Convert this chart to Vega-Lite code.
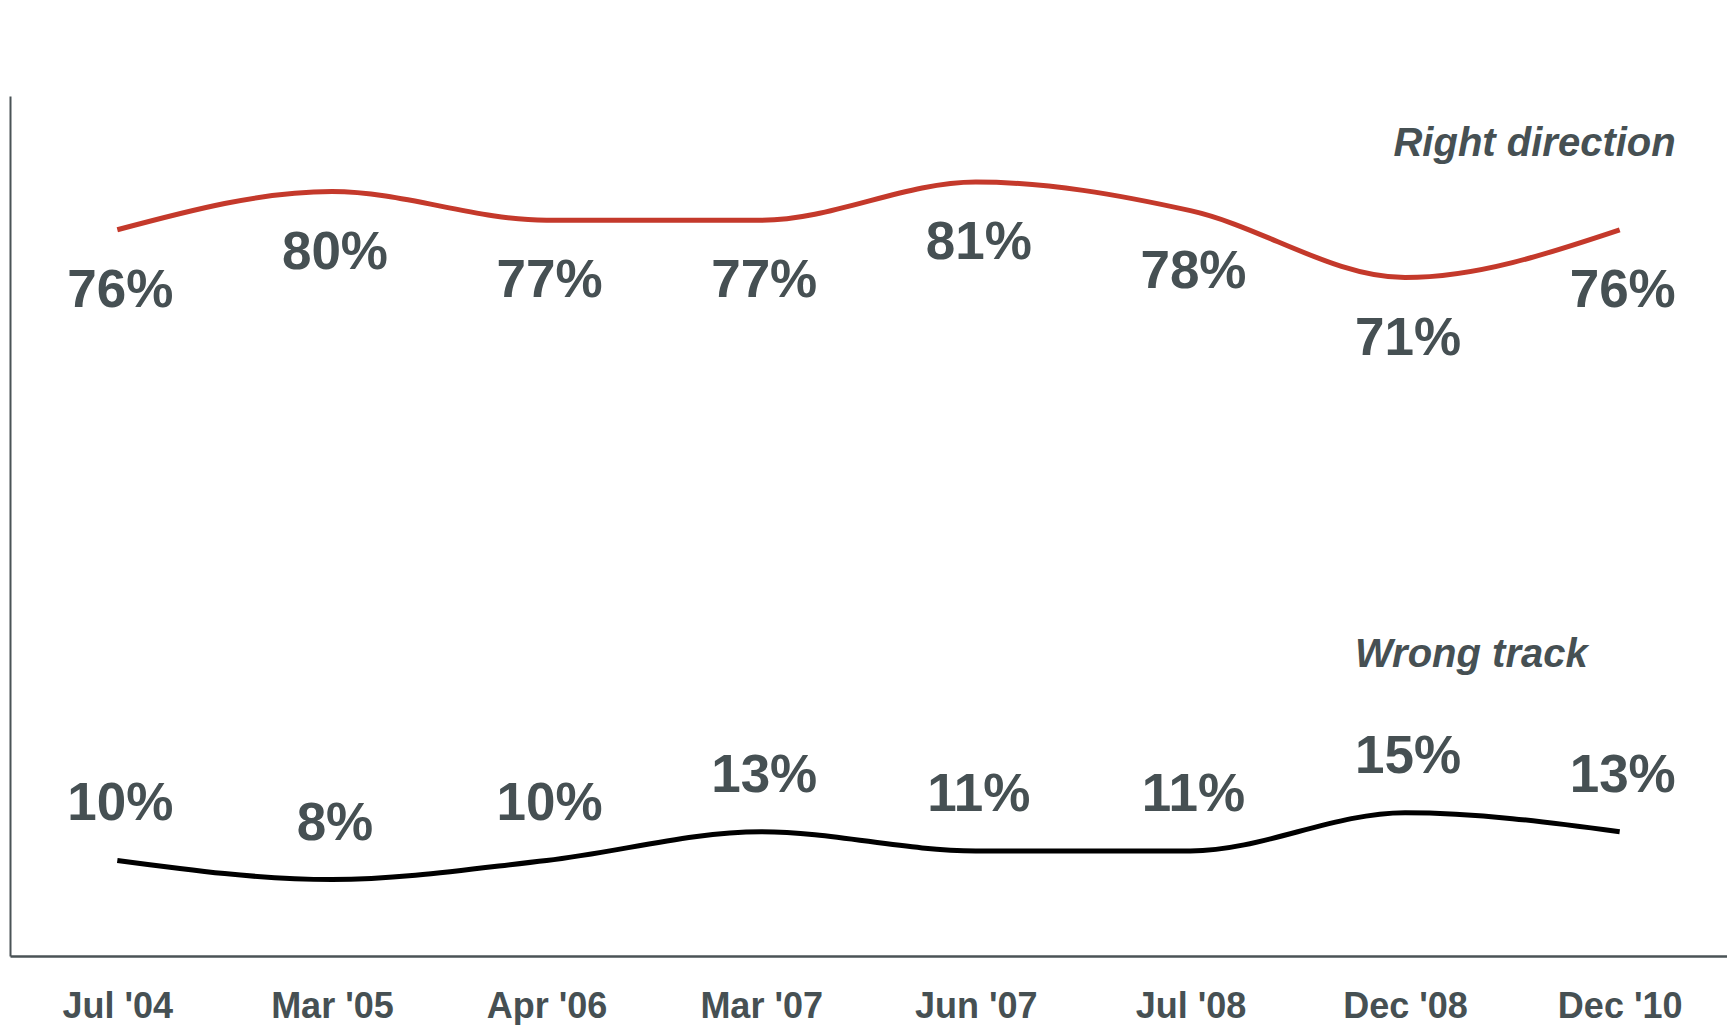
{
  "$schema": "https://vega.github.io/schema/vega-lite/v6.json",
  "width": 1717,
  "height": 860,
  "autosize": {"type": "none"},
  "padding": {"left": 10, "top": 96, "right": 0, "bottom": 69},
  "background": "#ffffff",
  "config": {"view": {"stroke": null}},
  "datasets": {
    "poll": [
      {"date": "Jul '04", "series": "Right direction", "value": 76, "label": "76%"},
      {"date": "Mar '05", "series": "Right direction", "value": 80, "label": "80%"},
      {"date": "Apr '06", "series": "Right direction", "value": 77, "label": "77%"},
      {"date": "Mar '07", "series": "Right direction", "value": 77, "label": "77%"},
      {"date": "Jun '07", "series": "Right direction", "value": 81, "label": "81%"},
      {"date": "Jul '08", "series": "Right direction", "value": 78, "label": "78%"},
      {"date": "Dec '08", "series": "Right direction", "value": 71, "label": "71%"},
      {"date": "Dec '10", "series": "Right direction", "value": 76, "label": "76%"},
      {"date": "Jul '04", "series": "Wrong track", "value": 10, "label": "10%"},
      {"date": "Mar '05", "series": "Wrong track", "value": 8, "label": "8%"},
      {"date": "Apr '06", "series": "Wrong track", "value": 10, "label": "10%"},
      {"date": "Mar '07", "series": "Wrong track", "value": 13, "label": "13%"},
      {"date": "Jun '07", "series": "Wrong track", "value": 11, "label": "11%"},
      {"date": "Jul '08", "series": "Wrong track", "value": 11, "label": "11%"},
      {"date": "Dec '08", "series": "Wrong track", "value": 15, "label": "15%"},
      {"date": "Dec '10", "series": "Wrong track", "value": 13, "label": "13%"}
    ],
    "notes": [
      {"date": "Dec '10", "value": 85, "text": "Right direction"},
      {"date": "Dec '10", "value": 31.5, "text": "Wrong track"}
    ]
  },
  "encoding": {
    "x": {
      "field": "date",
      "type": "ordinal",
      "sort": ["Jul '04", "Mar '05", "Apr '06", "Mar '07", "Jun '07", "Jul '08", "Dec '08", "Dec '10"],
      "scale": {"type": "point", "padding": 0.5},
      "axis": {
        "title": null,
        "domain": true,
        "domainColor": "#4a5356",
        "domainWidth": 2.5,
        "ticks": false,
        "grid": false,
        "labelAngle": 0,
        "labelFont": "Liberation Sans, Arial",
        "labelFontSize": 36,
        "labelFontWeight": "bold",
        "labelColor": "#465053",
        "labelBaseline": "middle",
        "labelPadding": 50
      }
    },
    "y": {
      "field": "value",
      "type": "quantitative",
      "scale": {"domain": [0, 90], "nice": false, "zero": true},
      "axis": {
        "title": null,
        "domain": true,
        "domainColor": "#4a5356",
        "domainWidth": 2,
        "ticks": false,
        "labels": false,
        "grid": false
      }
    }
  },
  "layer": [
    {
      "data": {"name": "poll"},
      "mark": {"type": "line", "interpolate": "monotone", "strokeWidth": 5},
      "encoding": {
        "color": {
          "field": "series",
          "type": "nominal",
          "scale": {"domain": ["Right direction", "Wrong track"], "range": ["#c4392b", "#000000"]},
          "legend": null
        }
      }
    },
    {
      "data": {"name": "poll"},
      "transform": [{"filter": "datum.series === 'Right direction'"}],
      "mark": {"type": "text", "dy": 61, "dx": 3, "baseline": "middle", "font": "Liberation Sans, Arial", "fontSize": 53, "fontWeight": "bold", "color": "#465053"},
      "encoding": {"text": {"field": "label"}}
    },
    {
      "data": {"name": "poll"},
      "transform": [{"filter": "datum.series === 'Wrong track'"}],
      "mark": {"type": "text", "dy": -56, "dx": 3, "baseline": "middle", "font": "Liberation Sans, Arial", "fontSize": 53, "fontWeight": "bold", "color": "#465053"},
      "encoding": {"text": {"field": "label"}}
    },
    {
      "data": {"name": "notes"},
      "transform": [{"filter": "datum.text === 'Right direction'"}],
      "mark": {"type": "text", "align": "right", "dx": 56, "baseline": "middle", "font": "Liberation Sans, Arial", "fontSize": 40, "fontWeight": "bold", "fontStyle": "italic", "color": "#465053"},
      "encoding": {"text": {"field": "text"}}
    },
    {
      "data": {"name": "notes"},
      "transform": [{"filter": "datum.text === 'Wrong track'"}],
      "mark": {"type": "text", "align": "right", "dx": -32, "baseline": "middle", "font": "Liberation Sans, Arial", "fontSize": 40, "fontWeight": "bold", "fontStyle": "italic", "color": "#465053"},
      "encoding": {"text": {"field": "text"}}
    }
  ]
}
